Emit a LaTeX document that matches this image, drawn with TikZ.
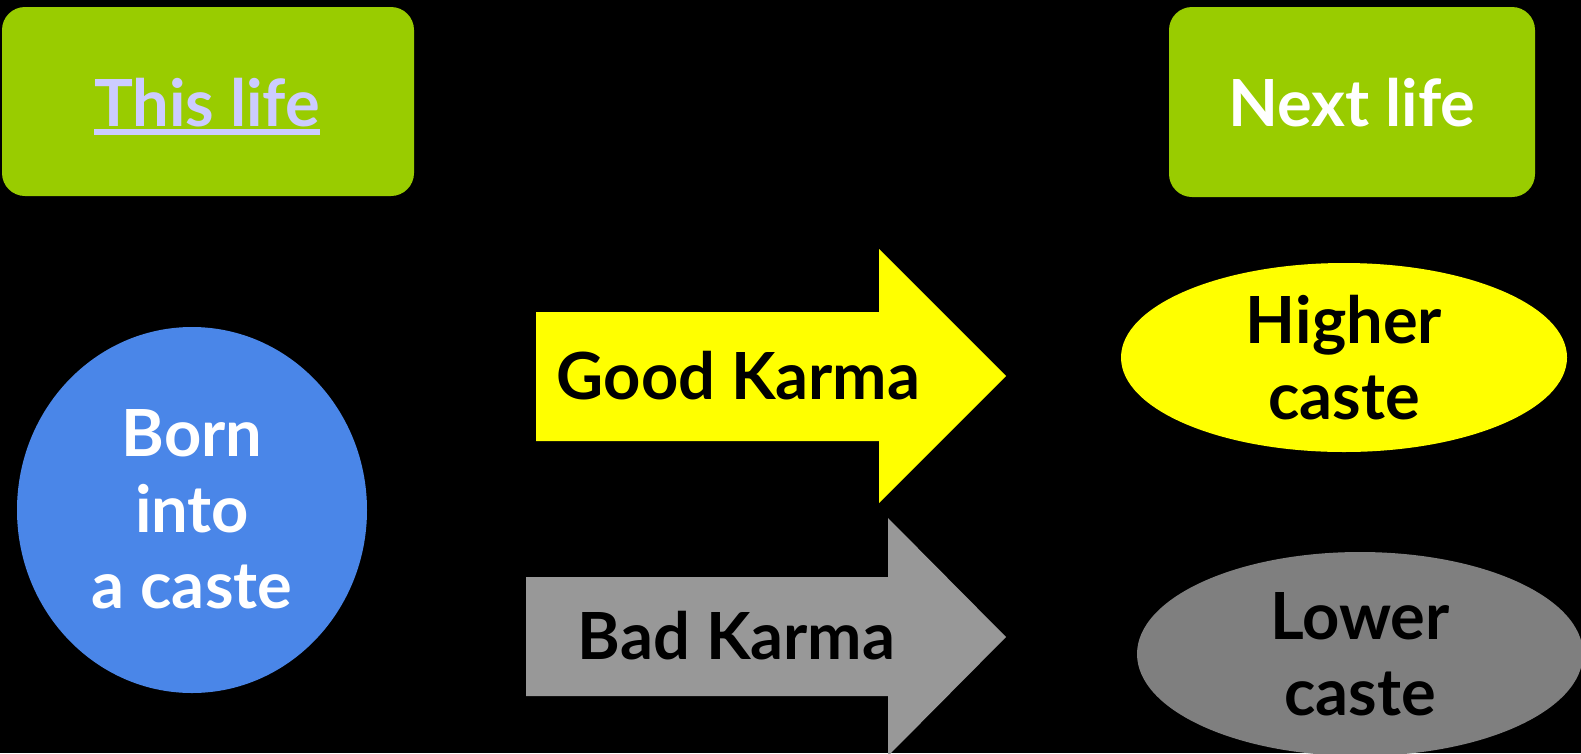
\documentclass[tikz,border=0pt]{standalone}
\usepackage{fontspec}
\setmainfont{Lato}
\usetikzlibrary{shapes.geometric}
\definecolor{lgreen}{HTML}{99CC00}
\definecolor{cblue}{HTML}{4A86E8}
\definecolor{cyellow}{HTML}{FFFF00}
\definecolor{agray}{HTML}{989898}
\definecolor{egray}{HTML}{7F7F7F}
\definecolor{lavender}{HTML}{CCCCFF}
\tikzset{
  big/.style={font=\fontsize{65}{76}\selectfont\bfseries},
  lifebox/.style={draw=none, fill=lgreen, rounded corners=23pt, inner sep=0pt, big},
  oval/.style={ellipse, draw=none, inner sep=0pt, align=center, big, text=black},
  armtext/.style={inner sep=0pt, anchor=base, big, text=black}
}
\begin{document}
\begin{tikzpicture}[x=1pt,y=-1pt]
\fill[black] (0,0) rectangle (1581,753);
\useasboundingbox (0,0) rectangle (1581,753);
% top boxes
\node[lifebox, minimum width=412pt, minimum height=189pt] (thisbox) at (208,101.5) {};
\node[big, text=lavender, inner sep=0pt, anchor=base] (thistxt) at (207,126) {This life};
\fill[lavender] ([yshift=-3pt]thistxt.base west) rectangle ([yshift=-9pt]thistxt.base east);
\node[lifebox, minimum width=366pt, minimum height=190pt] (nextbox) at (1352,102) {};
\node[big, text=white, inner sep=0pt, anchor=base] (nexttxt) at (1352,126) {Next life};
% circle
\node[ellipse, fill=cblue, minimum width=350pt, minimum height=366pt, inner sep=0pt] (born) at (192,510) {};
\node[big, text=white, align=center, inner sep=0pt, anchor=base] (borntxt) at (192,608) {Born\\into\\a caste};
% arrows
\fill[cyellow] (536,312) -- (879,312) -- (879,249) -- (1006,376) -- (879,503) -- (879,441) -- (536,441) -- cycle;
\node[armtext] (good) at (738.5,399) {Good Karma};
\fill[agray] (526,577) -- (888,577) -- (888,518) -- (1006,637) -- (888,756) -- (888,696) -- (526,696) -- cycle;
\node[armtext] (bad) at (736.5,659) {Bad Karma};
% ellipses
\node[oval, fill=cyellow, minimum width=446pt, minimum height=189pt] (higher) at (1344,357.5) {Higher\\caste};
\node[oval, fill=egray, minimum width=446pt, minimum height=204pt] (lower) at (1360,654) {Lower\\caste};
\end{tikzpicture}
\end{document}
